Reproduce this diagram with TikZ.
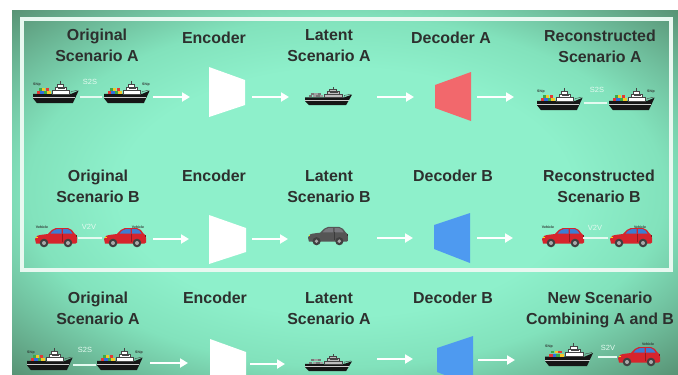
\documentclass[tikz,border=0pt]{standalone}
\usepackage{fontspec}
\setmainfont{Liberation Sans}
\usetikzlibrary{arrows.meta}

\definecolor{mintC}{RGB}{142,240,203}
\definecolor{mintM}{RGB}{130,226,188}
\definecolor{mintE}{RGB}{112,192,158}
\definecolor{mintK}{RGB}{88,146,116}
\definecolor{inkgray}{RGB}{45,48,46}
\definecolor{linkwhite}{RGB}{228,250,240}
\definecolor{framewhite}{RGB}{232,248,240}
\definecolor{decred}{RGB}{242,104,108}
\definecolor{decblue}{RGB}{78,154,240}
\definecolor{hullblack}{RGB}{22,22,22}
\definecolor{bandgrey}{RGB}{205,205,205}
\definecolor{cabingrey}{RGB}{190,190,190}
\definecolor{boxred}{RGB}{226,58,52}
\definecolor{boxblue}{RGB}{52,110,220}
\definecolor{boxgreen}{RGB}{60,170,70}
\definecolor{boxyellow}{RGB}{245,200,40}
\definecolor{boxgA}{RGB}{120,120,120}
\definecolor{boxgB}{RGB}{160,160,160}
\definecolor{winddark}{RGB}{70,70,70}
\definecolor{carred}{RGB}{214,36,44}
\definecolor{carglass}{RGB}{60,125,210}
\definecolor{cargreybody}{RGB}{85,85,85}
\definecolor{cargreyglass}{RGB}{120,120,125}
\definecolor{hubgrey}{RGB}{170,170,170}

% soft glow: the filled box spans radius 25bp at its edges, 35bp at its corners
\pgfdeclareradialshading{panelglow}{\pgfpoint{0bp}{0bp}}{%
  color(0bp)=(mintC); color(17bp)=(mintC); color(24bp)=(mintM);
  color(29bp)=(mintE); color(35.5bp)=(mintK); color(50bp)=(mintK)}

% cargo ship: hull, band, superstructure, four container colours, trim
\newcommand\shipshape[8]{%
  \fill[#1] (0,-9.5) -- (40,-9.5) -- (48,-13) -- (42,0) -- (4,0) -- (0,-5) -- cycle;
  \draw[#2, line width=0.9bp] (0.3,-5.8) -- (44.5,-5.8);
  \fill[#4] (4,-9.5) rectangle (7.5,-12.5);
  \fill[#5] (7.7,-9.5) rectangle (11.2,-12.5);
  \fill[#6] (11.4,-9.5) rectangle (14.9,-12.5);
  \fill[#7] (15.1,-9.5) rectangle (18.6,-12.5);
  \fill[#6] (5.8,-12.7) rectangle (9.3,-15.5);
  \fill[#7] (9.5,-12.7) rectangle (13,-15.5);
  \fill[#4] (13.2,-12.7) rectangle (16.7,-15.5);
  \fill[#3] (20,-9.5) rectangle (38,-13.5);
  \fill[#3] (23,-13.5) rectangle (35,-17);
  \fill[#3] (25,-17) rectangle (32,-19.5);
  \draw[#8, line width=0.4bp] (20,-9.5) rectangle (38,-13.5)
    (23,-13.5) rectangle (35,-17) (25,-17) rectangle (32,-19.5);
  \fill[#8] (26,-14.7) rectangle (34,-15.8);
  \draw[#8, line width=0.6bp] (28.5,-19.5) -- (28.5,-23);
  \draw[#8, line width=0.4bp] (40,-9.5) -- (40,-12) -- (47,-13.5);
}

% hatchback seen from the side: body and glass colours
\newcommand\carshape[2]{%
  \fill[#1] (1,-3.5) -- (0,-8) .. controls (0.5,-11) and (3,-11.8) .. (7,-12.3)
    -- (13,-13) .. controls (16,-16.5) and (18,-18.6) .. (21,-19) -- (33,-19)
    .. controls (36,-18.6) and (38,-16) .. (39.5,-13.5)
    .. controls (41.5,-12.5) and (42,-11) .. (42,-9) -- (42,-4.5) -- (40.5,-3.5) -- cycle;
  \fill[#2] (15.5,-13.4) .. controls (17,-15.5) and (19,-17.6) .. (21.5,-17.8)
    -- (26.5,-17.8) -- (26.5,-13.4) -- cycle;
  \fill[#2] (28,-13.4) -- (28,-17.8) -- (32.8,-17.8)
    .. controls (35,-17.4) and (36.5,-15.5) .. (37.5,-13.4) -- cycle;
  \draw[#1!70!black, line width=0.3bp] (27.2,-5) -- (27.2,-13.4);
  \fill[black!75] (9,-4) circle (4.3);
  \fill[black!75] (33,-4) circle (4.3);
  \fill[hubgrey] (9,-4) circle (2);
  \fill[hubgrey] (33,-4) circle (2);
  \fill[yellow!80!orange] (0.6,-9) rectangle (2.6,-10.2);
  \fill[#1!60!black] (40.8,-10) rectangle (42,-12);
}

\tikzset{
  pics/shipcolour/.style={code={\shipshape{hullblack}{bandgrey}{white}{boxred}{boxblue}{boxgreen}{boxyellow}{winddark}}},
  pics/shipgrey/.style={code={\shipshape{hullblack}{bandgrey}{cabingrey}{boxgA}{boxgB}{boxgA}{boxgB}{winddark}}},
  pics/carcolour/.style={code={\carshape{carred}{carglass}}},
  pics/cargrey/.style={code={\carshape{cargreybody}{cargreyglass}}}
}

\begin{document}
\begin{tikzpicture}[x=1bp,y=-1bp,
  title/.style={font=\fontsize{16}{21}\selectfont\bfseries, text=inkgray,
    align=center, anchor=north, inner sep=0pt},
  flow/.style={draw=white, line width=2bp, -{Triangle[length=8bp,width=9bp]}},
  link/.style={draw=linkwhite, line width=1.5bp},
  linklabel/.style={font=\fontsize{7.5}{8}\selectfont, text=linkwhite, inner sep=0pt},
  tag/.style={font=\fontsize{3.5}{4}\selectfont\bfseries, text=inkgray, inner sep=0pt},
  encoderbox/.style={fill=white},
  decoderA/.style={fill=decred},
  decoderB/.style={fill=decblue}]

\useasboundingbox (0,0) rectangle (678,374);
\fill[white] (0,0) rectangle (678,374);

% backdrop panel and the frame round the two reconstruction rows
\shade[shading=panelglow] (12,10) rectangle (678,374);
\draw[framewhite, line width=4bp] (22,19) rectangle (671,270);

% ---------------- row 1: scenario A through decoder A ----------------
\node[title] (t1a) at (97,29) {Original\\Scenario A};
\node[title] (t1b) at (214,32) {Encoder};
\node[title] (t1c) at (329,29) {Latent\\Scenario A};
\node[title] (t1d) at (451,32) {Decoder A};
\node[title] (t1e) at (600,30) {Reconstructed\\Scenario A};

\pic[scale=0.95] at (33,103) {shipcolour};
\pic[scale=0.95] at (104,103) {shipcolour};
\node[tag] (g1a) at (37,85) {Ship};
\node[tag] (g1b) at (146,85) {Ship};
\coordinate (l1s) at (80,97); \coordinate (l1e) at (102,97);
\draw[link] (l1s) -- (l1e);
\node[linklabel] (k1a) at (90,82) {S2S};

\coordinate (a11s) at (153,97); \coordinate (a11e) at (190,97);
\coordinate (a12s) at (252,97); \coordinate (a12e) at (289,97);
\coordinate (a13s) at (377,97); \coordinate (a13e) at (414,97);
\coordinate (a14s) at (477,97); \coordinate (a14e) at (514,97);
\draw[flow] (a11s) -- (a11e);
\draw[flow] (a12s) -- (a12e);
\draw[flow] (a13s) -- (a13e);
\draw[flow] (a14s) -- (a14e);

\fill[encoderbox] (209,67) -- (245,80) -- (245,105) -- (209,117) -- cycle;
\pic[xscale=0.98,yscale=0.8] at (305,105) {shipgrey};
\fill[decoderA] (435,85) -- (471,72) -- (471,121) -- (435,108) -- cycle;

\pic[scale=0.95] at (537,110) {shipcolour};
\pic[scale=0.95] at (609,110) {shipcolour};
\node[tag] (g1c) at (541,92) {Ship};
\node[tag] (g1d) at (651,92) {Ship};
\coordinate (l1r) at (584,103); \coordinate (l1t) at (607,103);
\draw[link] (l1r) -- (l1t);
\node[linklabel] (k1b) at (597,90) {S2S};

% ---------------- row 2: scenario B through decoder B ----------------
\node[title] (t2a) at (98,170) {Original\\Scenario B};
\node[title] (t2b) at (214,170) {Encoder};
\node[title] (t2c) at (329,170) {Latent\\Scenario B};
\node[title] (t2d) at (453,170) {Decoder B};
\node[title] (t2e) at (599,170) {Reconstructed\\Scenario B};

\pic at (35,247) {carcolour};
\pic at (104,247) {carcolour};
\node[tag] (g2a) at (42,227) {Vehicle};
\node[tag] (g2b) at (138,227) {Vehicle};
\coordinate (l2s) at (78,238); \coordinate (l2e) at (102,238);
\draw[link] (l2s) -- (l2e);
\node[linklabel] (k2a) at (89,227) {V2V};

\coordinate (a21s) at (153,239); \coordinate (a21e) at (189,239);
\coordinate (a22s) at (252,239); \coordinate (a22e) at (288,239);
\coordinate (a23s) at (377,238); \coordinate (a23e) at (413,238);
\coordinate (a24s) at (477,238); \coordinate (a24e) at (513,238);
\draw[flow] (a21s) -- (a21e);
\draw[flow] (a22s) -- (a22e);
\draw[flow] (a23s) -- (a23e);
\draw[flow] (a24s) -- (a24e);

\fill[encoderbox] (209,215) -- (246,228) -- (246,252) -- (209,264) -- cycle;
\pic[scale=0.95] at (308,245) {cargrey};
\fill[decoderB] (434,225) -- (470,213) -- (470,263) -- (434,249) -- cycle;

\pic at (542,247) {carcolour};
\pic at (610,247) {carcolour};
\node[tag] (g2c) at (548,227) {Vehicle};
\node[tag] (g2d) at (640,227) {Vehicle};
\coordinate (l2r) at (583,238); \coordinate (l2t) at (608,238);
\draw[link] (l2r) -- (l2t);
\node[linklabel] (k2b) at (595,228) {V2V};

% ---------------- row 3: scenario A through decoder B ----------------
\node[title] (t3a) at (98,292) {Original\\Scenario A};
\node[title] (t3b) at (215,292) {Encoder};
\node[title] (t3c) at (329,292) {Latent\\Scenario A};
\node[title] (t3d) at (453,292) {Decoder B};
\node[title] (t3e) at (600,292) {New Scenario\\Combining A and B};

\pic[scale=0.95] at (27,370) {shipcolour};
\pic[scale=0.95] at (97,370) {shipcolour};
\node[tag] (g3a) at (31,353) {Ship};
\node[tag] (g3b) at (139,353) {Ship};
\coordinate (l3s) at (73,365); \coordinate (l3e) at (96,365);
\draw[link] (l3s) -- (l3e);
\node[linklabel] (k3a) at (85,350) {S2S};

\coordinate (a31s) at (150,363); \coordinate (a31e) at (188,363);
\coordinate (a32s) at (250,364); \coordinate (a32e) at (285,364);
\coordinate (a33s) at (377,359); \coordinate (a33e) at (413,359);
\coordinate (a34s) at (478,360); \coordinate (a34e) at (515,360);
\draw[flow] (a31s) -- (a31e);
\draw[flow] (a32s) -- (a32e);
\draw[flow] (a33s) -- (a33e);
\draw[flow] (a34s) -- (a34e);

\fill[encoderbox] (210,339) -- (246,352) -- (246,376) -- (210,388) -- cycle;
\pic[xscale=0.98,yscale=0.75] at (305,371) {shipgrey};
\fill[decoderB] (437,348) -- (473,336) -- (473,386) -- (437,372) -- cycle;

\pic at (545,366) {shipcolour};
\pic at (618,366) {carcolour};
\node[tag] (g3c) at (549,347) {Ship};
\node[tag] (g3d) at (648,344) {Vehicle};
\coordinate (l3r) at (598,357); \coordinate (l3t) at (617,357);
\draw[link] (l3r) -- (l3t);
\node[linklabel] (k3b) at (608,348) {S2V};

\end{tikzpicture}
\end{document}
